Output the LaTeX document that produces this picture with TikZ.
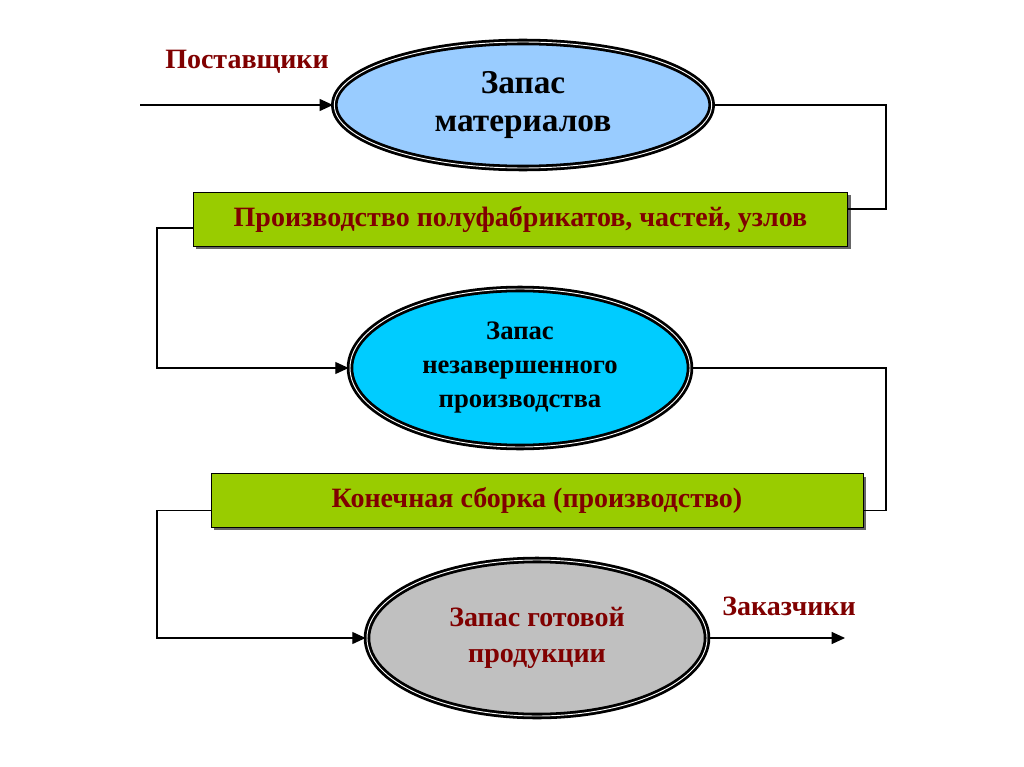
\documentclass[tikz,border=0pt]{standalone}
\usepackage{fontspec}
\setmainfont{Liberation Serif}
\usetikzlibrary{positioning,shapes.geometric,arrows.meta,shadows}

\definecolor{darkred}{HTML}{800000}
\definecolor{lightblue}{HTML}{99CCFF}
\definecolor{skycyan}{HTML}{00CCFF}
\definecolor{stockgray}{HTML}{C0C0C0}
\definecolor{leafgreen}{HTML}{99CC00}

\tikzset{
	stock/.style={ellipse,draw=black,line width=2.1pt,double=white,double distance=0.7pt,inner sep=0pt,align=center,font=\bfseries},
	stage/.style={rectangle,draw=black,line width=0.6pt,fill=leafgreen,inner sep=0pt,text=darkred,
		font=\fontsize{21}{24}\selectfont\bfseries,drop shadow={shadow xshift=2pt,shadow yshift=-2pt,fill=black!60,opacity=1}},
	link/.style={line width=0.9pt},
	arr/.style={link,-{Triangle[length=10pt,width=9pt]}},
	tag/.style={text=darkred,font=\fontsize{21}{24}\selectfont\bfseries}
}

\begin{document}
\begin{tikzpicture}[x=0.75pt,y=-0.75pt]
		\useasboundingbox[fill=white](0,0) rectangle (1024,767);
		\node[stock,fill=lightblue,minimum width=283pt,minimum height=94.5pt,font=\fontsize{25}{29}\selectfont\bfseries](mat) at (523,105){Запас\\материалов};
		\node[stage,minimum width=491pt,minimum height=40.5pt](prod) at (520.5,219){Производство полуфабрикатов, частей, узлов};
		\node[stock,fill=skycyan,minimum width=255pt,minimum height=118.5pt,font=\fontsize{20}{25.5}\selectfont\bfseries](wip) at (520,368){Запас\\незавершенного\\производства};
		\node[stage,minimum width=489pt,minimum height=40pt](asm) at (537,500.5){Конечная сборка (производство)};
		\node[stock,fill=stockgray,minimum width=255pt,minimum height=117pt,text=darkred,font=\fontsize{21}{27}\selectfont\bfseries](fin) at (537,638){Запас готовой\\продукции};
		\node[tag](sup) at (247,62){Поставщики};
		\node[tag](cust) at (789,606){Заказчики};
		
		\coordinate(src) at (140,105);
		\coordinate(dst) at (845,638);
		\coordinate(rr) at (886,0);
		\coordinate(lr) at (157,0);
		\coordinate(p1) at ([yshift=7.5pt]prod.east);
		\coordinate(p2) at ([yshift=-6.75pt]prod.west);
		\coordinate(a1) at ([yshift=-7.5pt]asm.east);
		\coordinate(a2) at ([yshift=-7.5pt]asm.west);
		
		\draw[arr](src)--(mat.west);
		\draw[link](mat.east)-|(rr|-p1)--(p1);
		\draw[arr](p2)-|(lr|-wip.west)--(wip.west);
		\draw[link](wip.east)-|(rr|-a1)--(a1);
		\draw[arr](a2)-|(lr|-fin.west)--(fin.west);
		\draw[arr](fin.east)--(dst);
	\end{tikzpicture}
\end{document}
